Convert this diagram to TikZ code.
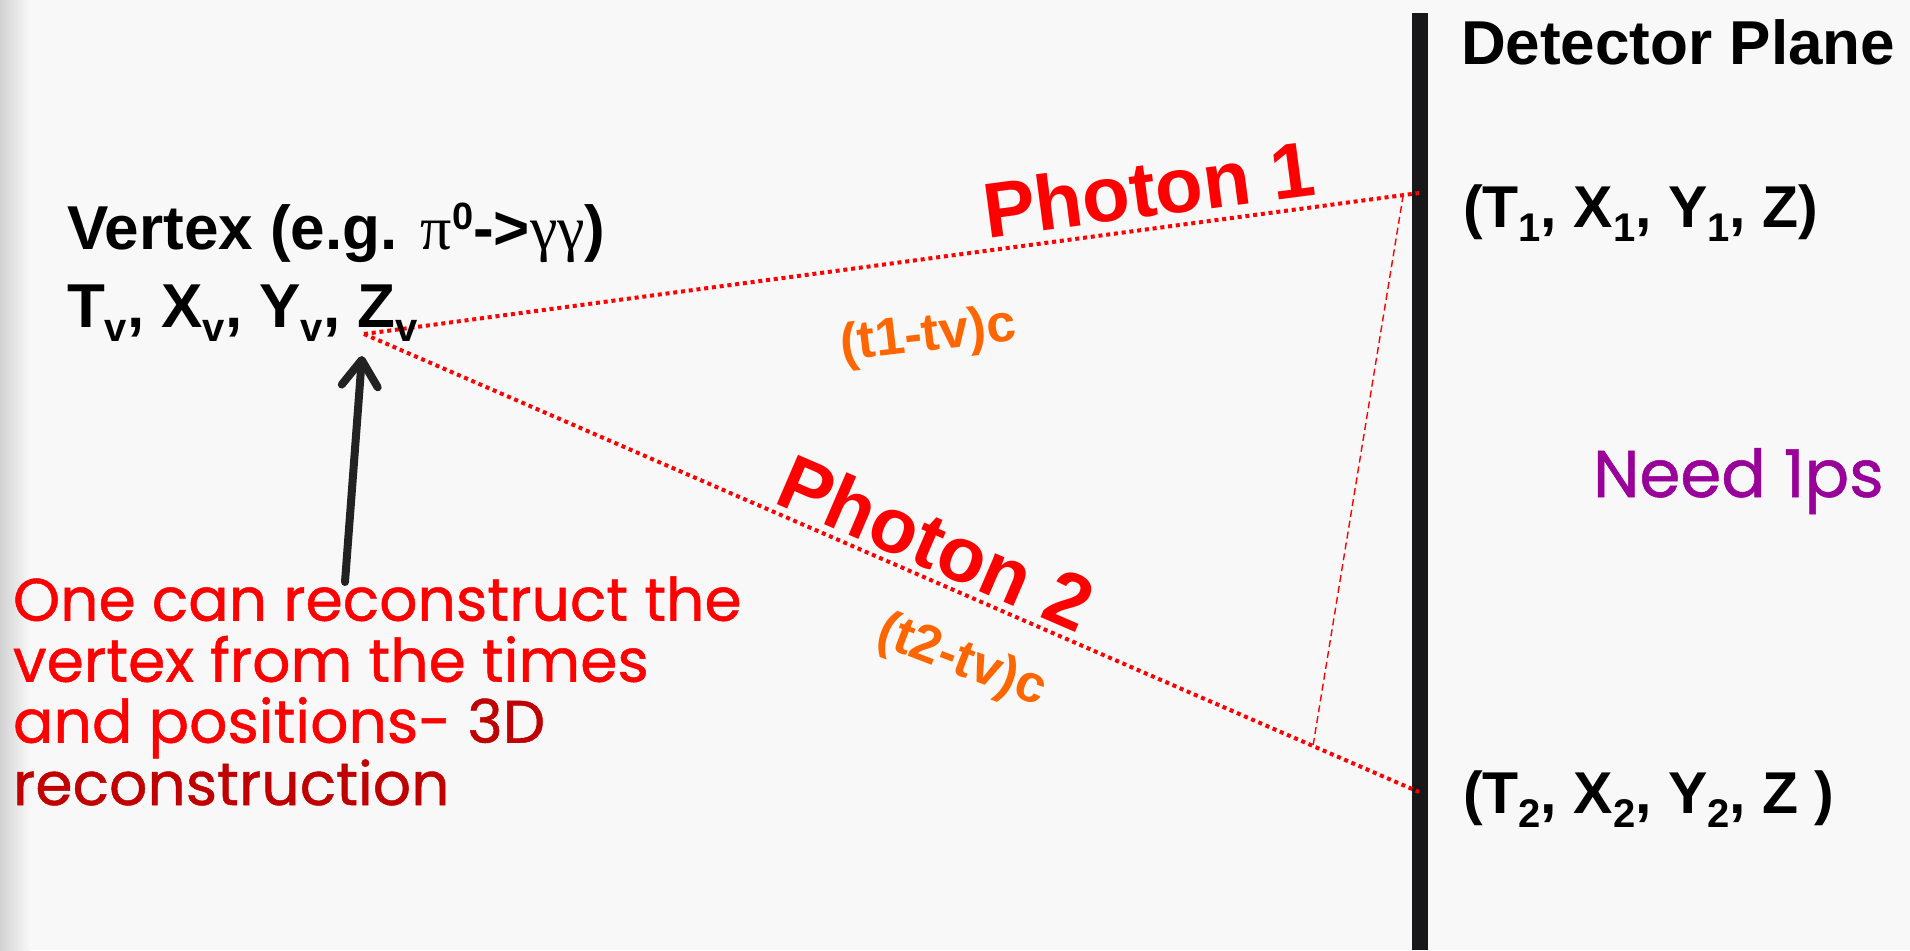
\documentclass[tikz,border=0pt]{standalone}
\usepackage{fontspec}
\setmainfont{Liberation Sans}
\newfontfamily\comicfont[FakeBold=0.8]{Poppins}
\newfontfamily\symbfont{Liberation Serif}
\usetikzlibrary{calc,arrows.meta}
\definecolor{bg}{RGB}{248,248,248}
\definecolor{pred}{RGB}{255,0,0}
\definecolor{dred}{RGB}{192,0,0}
\definecolor{orng}{RGB}{255,102,0}
\definecolor{purp}{RGB}{153,0,153}
\definecolor{barcol}{RGB}{24,24,26}
\definecolor{arrcol}{RGB}{34,34,34}
\newcommand{\lowsub}[1]{\raisebox{-14pt}{\fontsize{40}{40}\selectfont #1}}
\newcommand{\highsup}[1]{\raisebox{20pt}{\fontsize{38}{38}\selectfont #1}}
\begin{document}
\begin{tikzpicture}[x=1pt,y=-1pt,
  lbl/.style={inner sep=0pt, outer sep=0pt, anchor=base west},
  blk/.style={lbl, font=\fontsize{62}{74}\selectfont\bfseries, text=black},
  coordlbl/.style={lbl, font=\fontsize{59}{70}\selectfont\bfseries, text=black},
  photon/.style={lbl, font=\fontsize{78}{90}\selectfont\bfseries, text=pred},
  dist/.style={lbl, font=\fontsize{53}{60}\selectfont\bfseries, text=orng},
  ray/.style={pred, line width=4pt, dash pattern=on 4pt off 3.8pt},
  perp/.style={pred, line width=1.4pt, dash pattern=on 7pt off 4pt},
  pointer/.style={arrcol, line width=8pt, line cap=round,
    -{Straight Barb[length=26pt, width=36pt, line cap=round, line join=round]}},
]
\fill[bg] (0,0) rectangle (1910,950);
\shade[left color=gray!35, right color=bg] (0,0) rectangle (30,950);
\useasboundingbox (0,0) rectangle (1910,950);

% detector plane
\fill[barcol] (1412,13) rectangle (1428,950);

% rays
\coordinate (V) at (364,334);
\coordinate (P1) at (1419,193);
\coordinate (P2) at (1419,792);
\draw[ray] (V) -- (P1);
\draw[ray] (V) -- (P2);
\coordinate (Q1) at ($(V)!0.985!(P1)$);
\coordinate (Q2) at ($(V)!0.8995!(P2)$);
\draw[perp] (Q1) -- (Q2);

% pointer arrow
\coordinate (tail) at (345,582);
\coordinate (tip) at (362,356);
\draw[pointer] (tail) -- (tip);

% labels
\node[blk] (vtx) at (67,249) {Vertex (e.g. {\symbfont\mdseries π}\highsup{0}->{\symbfont\mdseries γγ})};
\node[blk] (vcoord) at (67,327) {T\lowsub{v}, X\lowsub{v}, Y\lowsub{v}, Z\lowsub{v}};
\node[blk] (det) at (1461,65) {Detector Plane};
\node[coordlbl] (c1) at (1463,227) {(T\lowsub{1}, X\lowsub{1}, Y\lowsub{1}, Z)};
\node[coordlbl] (c2) at (1463,813) {(T\lowsub{2}, X\lowsub{2}, Y\lowsub{2}, Z )};

\node[photon, rotate=7.5] (ph1) at (987,238) {Photon 1};
\node[photon, rotate=-23.3] (ph2) at (772,502) {Photon 2};
\node[dist, rotate=6.7] (d1) at (842,361) {(t1-tv)c};
\node[dist, rotate=-21] (d2) at (874,643) {(t2-tv)c};

\node[lbl, font=\comicfont\fontsize{66}{70}\selectfont, text=purp] (need) at (1593,497) {Need 1ps};
\node[lbl, font=\comicfont\fontsize{60}{61}\selectfont, text=pred, align=left] (note) at (13,805)
  {One can reconstruct the\\vertex from the times\\and positions- {\color{dred}3D}\\{\color{dred}reconstruction}};
\end{tikzpicture}
\end{document}
